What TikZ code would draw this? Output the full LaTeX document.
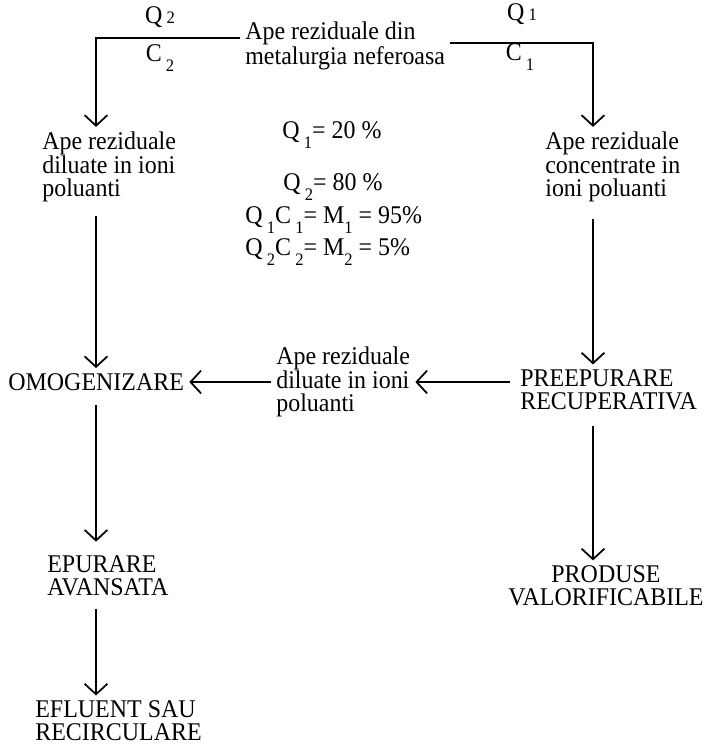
\documentclass[tikz,border=0pt]{standalone}
\usepackage{fontspec}
\setmainfont{Liberation Serif}[FakeStretch=0.94]
\usetikzlibrary{arrows.meta}
\newcommand{\idxlow}[1]{\raisebox{-0.8ex}{\fontsize{10}{10}\selectfont #1}}
\newcommand{\idxmid}[1]{{\fontsize{10}{10}\selectfont #1}}
\tikzset{
  >={Straight Barb[length=6pt,width=13pt]},
  txt/.style={inner sep=1mm, align=left, font=\fontsize{14.5}{13.2}\selectfont},
  flow/.style={->, line width=1pt},
}
\begin{document}
\begin{tikzpicture}
    \useasboundingbox (0,0) rectangle (14.16,14.94);
    \coordinate (colL) at (1.92,0);
    \coordinate (colR) at (11.86,0);
    %% Source and split
    \node[txt,anchor=west] (src) at (4.8,14.02) {Ape reziduale din\\metalurgia neferoasa};
    \node[txt] (q2) at (3.2,14.6) {Q\,\idxmid{2}};
    \node[txt] (c2) at (3.2,13.78) {C\,\idxlow{2}};
    \node[txt] (q1) at (10.44,14.66) {Q\,\idxmid{1}};
    \node[txt] (c1) at (10.4,13.8) {C\,\idxlow{1}};
    \node[txt,anchor=west] (dil) at (0.74,11.6) {Ape reziduale\\diluate in ioni\\poluanti};
    \node[txt,anchor=west] (conc) at (10.8,11.6) {Ape reziduale\\concentrate in\\ioni poluanti};
    \draw[flow] ([yshift=4.5pt]src.west) -| (dil.north -| colL);
    \draw[flow] ([yshift=1.7pt]src.east) -| (conc.north -| colR);
    %% Balance
    \node[txt,anchor=west] (f1) at (5.54,12.24) {Q\,\idxlow{1}= 20 \%};
    \node[txt,anchor=west] (f2) at (5.56,11.2) {Q\,\idxlow{2}= 80 \%};
    \node[txt,anchor=west] (f3) at (4.8,10.54) {Q\,\idxlow{1}C\,\idxlow{1}= M\idxlow{1} = 95\%};
    \node[txt,anchor=west] (f4) at (4.8,9.9) {Q\,\idxlow{2}C\,\idxlow{2}= M\idxlow{2} = 5\%};
    %% Treatment steps
    \node[txt,anchor=west] (omog) at (0.06,7.3) {OMOGENIZARE};
    \node[txt,anchor=west] (mid) at (5.42,7.3) {Ape reziduale\\diluate in ioni\\poluanti};
    \node[txt,anchor=west] (pre) at (10.3,7.14) {PREEPURARE\\RECUPERATIVA};
    \node[txt,anchor=west] (epur) at (0.84,3.42) {EPURARE\\AVANSATA};
    \node[txt,align=center] (prod) at (12.12,3.22) {PRODUSE\\VALORIFICABILE};
    \node[txt,anchor=west] (eflu) at (0.6,0.52) {EFLUENT SAU\\RECIRCULARE};
    \draw[flow,shorten <=5pt] (dil.south -| colL) -- (omog.north -| colL);
    \draw[flow,shorten <=5pt,shorten >=5pt] (omog.south -| colL) -- (epur.north -| colL);
    \draw[flow,shorten <=4pt] (epur.south -| colL) -- (eflu.north -| colL);
    \draw[flow,shorten <=7pt] (conc.south -| colR) -- (pre.north -| colR);
    \draw[flow,shorten <=6pt] (pre.south -| colR) -- (prod.north -| colR);
    \draw[flow,shorten <=3pt] (pre.west |- mid.east) -- (mid.east);
    \draw[flow] (mid.west) -- (omog.east);
\end{tikzpicture}
\end{document}
